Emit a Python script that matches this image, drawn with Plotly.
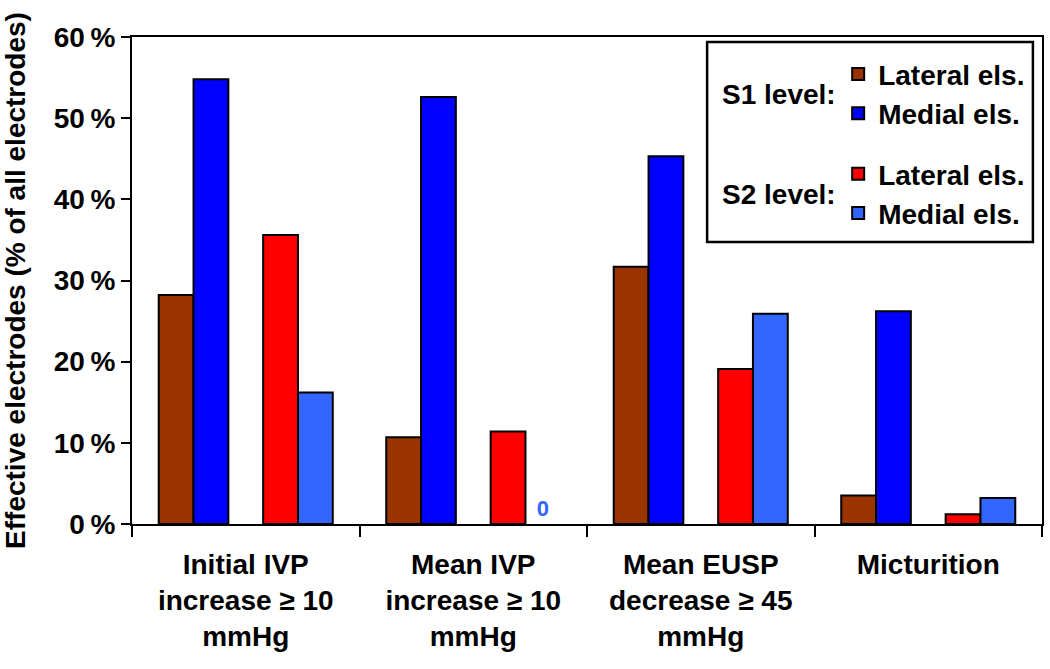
import plotly.graph_objects as go

categories = ["Initial IVP<br>increase ≥ 10<br>mmHg",
              "Mean IVP<br>increase ≥ 10<br>mmHg",
              "Mean EUSP<br>decrease ≥ 45<br>mmHg",
              "Micturition"]
s1_lateral = [28.2, 10.7, 31.7, 3.5]
s1_medial = [54.8, 52.6, 45.3, 26.2]
s2_lateral = [35.6, 11.4, 19.1, 1.2]
s2_medial = [16.2, 0.0, 25.9, 3.2]
y_ticks = [0, 10, 20, 30, 40, 50, 60]

FONT = "Liberation Sans"
FS = 28
W = 0.153
series = [
    ("Lateral els.", s1_lateral, "#993300", -2.5 * W, "legend"),
    ("Medial els.", s1_medial, "#0000ff", -1.5 * W, "legend"),
    ("Lateral els.", s2_lateral, "#ff0000", 0.5 * W, "legend2"),
    ("Medial els.", s2_medial, "#3366ff", 1.5 * W, "legend2"),
]


def f(size=FS, color="black"):
    return dict(family=FONT, size=size, color=color, weight="bold")


fig = go.Figure()
for name, vals, color, off, leg in series:
    txt = ["0" if v == 0 else "" for v in vals]
    lw = [0 if v == 0 else 2 for v in vals]
    fig.add_trace(go.Bar(
        x=categories, y=vals, name=name, legend=leg,
        offset=off, width=W,
        marker=dict(color=color, line=dict(color="black", width=lw)),
        text=txt, textposition="outside", cliponaxis=False,
        textfont=f(22, "#3366ff"),
    ))

leg_common = dict(xanchor="left", yanchor="top", bgcolor="rgba(0,0,0,0)",
                  borderwidth=0, font=f(), itemclick=False, itemdoubleclick=False)

fig.update_layout(
    template="none",
    width=1050, height=669,
    margin=dict(l=132, r=8, t=37, b=145),
    paper_bgcolor="white", plot_bgcolor="white",
    barmode="overlay",
    showlegend=True,
    font=f(),
    legend=dict(x=0.776, y=0.975, **leg_common),
    legend2=dict(x=0.776, y=0.770, **leg_common),
    shapes=[dict(type="rect", xref="paper", yref="paper",
                 x0=0.632, x1=0.990, y0=0.579, y1=0.9897,
                 line=dict(color="black", width=2.5), fillcolor="rgba(0,0,0,0)")],
    annotations=[
        dict(text="S1 level:", xref="paper", yref="paper", x=0.776, y=0.881,
             xanchor="right", yanchor="middle", showarrow=False, font=f()),
        dict(text="S2 level:", xref="paper", yref="paper", x=0.776, y=0.676,
             xanchor="right", yanchor="middle", showarrow=False, font=f()),
    ],
)

fig.update_xaxes(
    type="category", range=[-0.5, 3.5], automargin=False,
    showline=True, linecolor="black", linewidth=2, mirror=True,
    ticks="outside", tickson="boundaries", ticklen=11, tickwidth=2, tickcolor="black",
    showgrid=False, ticklabelstandoff=14,
    tickfont=f(),
)
fig.update_yaxes(
    range=[0, 60], tickvals=y_ticks, automargin=False,
    ticktext=[f"{v}\u2009%" for v in y_ticks],
    showline=True, linecolor="black", linewidth=2, mirror=True,
    ticks="outside", ticklen=9, tickwidth=2, tickcolor="black",
    showgrid=False, zeroline=False,
    tickfont=f(),
    title=dict(text="Effective electrodes (% of all electrodes)", standoff=30,
               font=f()),
)

fig.write_html("out.html", post_script="document.body.style.margin='0';",
               config={"displayModeBar": False})
